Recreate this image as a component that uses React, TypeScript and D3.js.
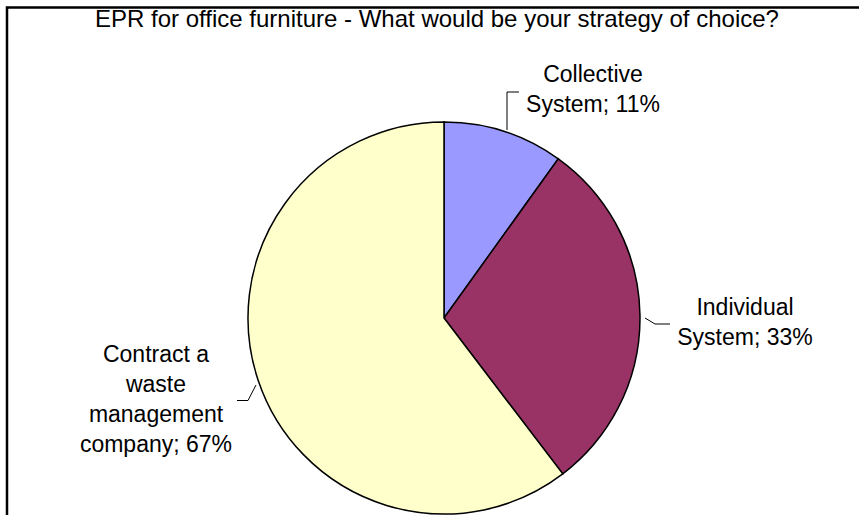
import React from "react";
import * as d3 from "d3";

const categories = ["Collective System", "Individual System", "Contract a waste management company"];
const values = [11, 33, 67];
const labelLines = [
  ["Collective", "System; 11%"],
  ["Individual", "System; 33%"],
  ["Contract a", "waste", "management", "company; 67%"],
];
const colors = ["#9999FF", "#993366", "#FFFFCC"];
const title = "EPR for office furniture - What would be your strategy of choice?";

const W = 859;
const H = 515;
const cx = 444;
const cy = 318;
const R = 196;

const labelPos = [
  { x: 593, y: 82 },
  { x: 745, y: 315 },
  { x: 156, y: 362 },
];

export default function App() {
  const pie = d3.pie<number>().sort(null).value((d) => d);
  const arcs = pie(values);
  const arc = d3.arc<d3.PieArcDatum<number>>().innerRadius(0).outerRadius(R);

  return (
    <svg
      width={W}
      height={H}
      style={{ position: "absolute", left: 0, top: 0, background: "#fff" }}
      fontFamily="'Liberation Sans', Arial, sans-serif"
    >
      <rect x={7} y={7.5} width={W + 50} height={H + 50} fill="#fff" stroke="#000" strokeWidth={2.5} />
      <text x={437} y={27} textAnchor="middle" fontSize={24} fill="#000">
        {title}
      </text>
      <g transform={`translate(${cx},${cy})`}>
        {arcs.map((a, i) => (
          <path key={categories[i]} d={arc(a) || ""} fill={colors[i]} stroke="#000" strokeWidth={1.5} />
        ))}
      </g>
      <polyline points={`519,92 507,92 507,130`} fill="none" stroke="#000" strokeWidth={1} />
      <polyline points={`645,318 655,324 670,324`} fill="none" stroke="#000" strokeWidth={1} />
      <polyline points={`237,400.5 248,400.5 256,385`} fill="none" stroke="#000" strokeWidth={1} />
      {labelLines.map((lines, i) => (
        <text key={i} textAnchor="middle" fontSize={23} fill="#000">
          {lines.map((l, j) => (
            <tspan key={j} x={labelPos[i].x} y={labelPos[i].y + j * 30}>
              {l}
            </tspan>
          ))}
        </text>
      ))}
    </svg>
  );
}
